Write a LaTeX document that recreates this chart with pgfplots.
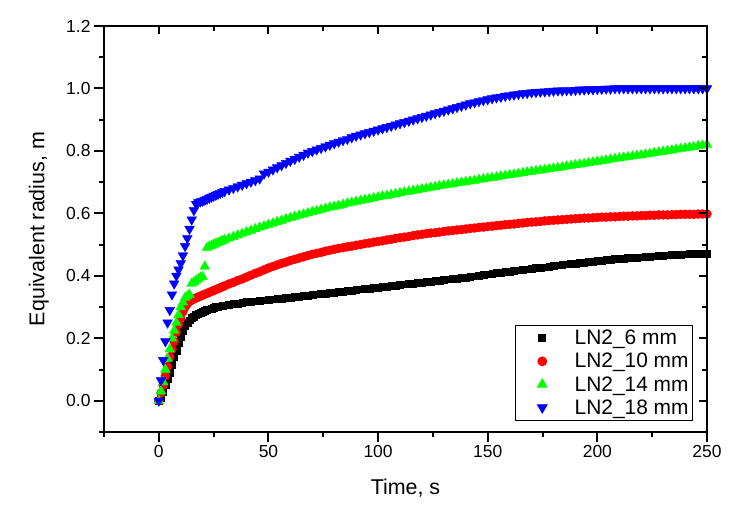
\documentclass[border=0pt]{standalone}
\usepackage{fontspec}
\setmainfont{Liberation Sans}
\usepackage{pgfplots}
\usepackage{pgfplotstable}
\pgfplotsset{compat=1.18}

% Equivalent radius (m) versus time (s) for four nozzle diameters
\pgfplotstableread{
t   r6    r10   r14   r18
0   0.000 0.000 0.000 0.000
1   0.010 0.025 0.030 0.065
2   0.030 0.050 0.060 0.130
3   0.050 0.080 0.100 0.190
4   0.070 0.110 0.135 0.250
5   0.090 0.140 0.165 0.290
6   0.115 0.165 0.200 0.340
7   0.140 0.190 0.225 0.375
8   0.160 0.220 0.250 0.400
9   0.185 0.245 0.275 0.420
10  0.205 0.265 0.300 0.440
11  0.225 0.285 0.315 0.465
12  0.240 0.300 0.330 0.495
13  0.250 0.310 0.335 0.520
14  0.258 0.318 0.340 0.550
15  0.265 0.322 0.375 0.580
16  0.270 0.326 0.380 0.610
17  0.275 0.329 0.385 0.630
18  0.279 0.332 0.390 0.635
19  0.282 0.335 0.395 0.638
20  0.285 0.338 0.397 0.640
21  0.288 0.341 0.430 0.643
22  0.291 0.344 0.490 0.646
23  0.293 0.347 0.494 0.650
24  0.296 0.350 0.497 0.653
25  0.298 0.353 0.500 0.656
26  0.300 0.356 0.503 0.659
27  0.301 0.359 0.506 0.662
28  0.303 0.362 0.509 0.665
29  0.305 0.365 0.512 0.668
30  0.306 0.368 0.515 0.671
32  0.308 0.374 0.520 0.676
34  0.310 0.379 0.525 0.681
36  0.312 0.385 0.530 0.686
38  0.314 0.390 0.535 0.691
40  0.316 0.396 0.540 0.696
42  0.317 0.402 0.545 0.701
44  0.319 0.408 0.550 0.706
46  0.320 0.413 0.555 0.711
48  0.322 0.419 0.559 0.727
50  0.323 0.425 0.564 0.733
52  0.325 0.430 0.568 0.740
54  0.326 0.435 0.573 0.747
56  0.328 0.440 0.577 0.754
58  0.329 0.444 0.582 0.761
60  0.331 0.449 0.586 0.768
62  0.333 0.453 0.590 0.774
64  0.334 0.457 0.594 0.781
66  0.336 0.461 0.597 0.787
68  0.337 0.465 0.601 0.794
70  0.339 0.469 0.605 0.799
72  0.341 0.472 0.608 0.804
74  0.342 0.475 0.612 0.809
76  0.344 0.479 0.615 0.814
78  0.345 0.482 0.619 0.819
80  0.347 0.485 0.622 0.824
82  0.349 0.488 0.625 0.829
84  0.350 0.490 0.628 0.834
86  0.352 0.493 0.632 0.838
88  0.353 0.495 0.635 0.843
90  0.355 0.498 0.638 0.848
92  0.357 0.500 0.641 0.852
94  0.358 0.503 0.644 0.856
96  0.360 0.505 0.646 0.860
98  0.361 0.508 0.649 0.864
100 0.363 0.510 0.652 0.868
102 0.365 0.512 0.655 0.872
104 0.366 0.515 0.657 0.876
106 0.368 0.517 0.660 0.880
108 0.369 0.520 0.662 0.884
110 0.371 0.522 0.665 0.888
112 0.373 0.524 0.668 0.892
114 0.374 0.526 0.670 0.896
116 0.376 0.529 0.673 0.900
118 0.377 0.531 0.675 0.904
120 0.379 0.533 0.678 0.908
122 0.381 0.535 0.680 0.912
124 0.382 0.537 0.683 0.916
126 0.384 0.538 0.685 0.920
128 0.385 0.540 0.688 0.924
130 0.387 0.542 0.690 0.928
132 0.389 0.544 0.692 0.932
134 0.390 0.545 0.694 0.936
136 0.392 0.547 0.697 0.940
138 0.393 0.548 0.699 0.944
140 0.395 0.550 0.701 0.948
142 0.397 0.552 0.703 0.952
144 0.399 0.553 0.705 0.955
146 0.401 0.555 0.708 0.959
148 0.403 0.556 0.710 0.962
150 0.405 0.558 0.712 0.965
152 0.407 0.559 0.714 0.968
154 0.409 0.561 0.716 0.971
156 0.410 0.562 0.719 0.973
158 0.412 0.564 0.721 0.976
160 0.414 0.565 0.723 0.978
162 0.416 0.566 0.725 0.980
164 0.418 0.568 0.727 0.982
166 0.419 0.569 0.730 0.984
168 0.421 0.571 0.732 0.985
170 0.423 0.572 0.734 0.987
172 0.425 0.573 0.736 0.988
174 0.427 0.574 0.738 0.989
176 0.428 0.576 0.740 0.990
178 0.430 0.577 0.742 0.991
180 0.432 0.578 0.744 0.992
182 0.434 0.579 0.746 0.993
184 0.435 0.580 0.748 0.993
186 0.437 0.581 0.751 0.994
188 0.438 0.582 0.753 0.994
190 0.440 0.583 0.755 0.995
192 0.442 0.584 0.757 0.996
194 0.443 0.585 0.759 0.996
196 0.445 0.585 0.762 0.997
198 0.446 0.586 0.764 0.997
200 0.448 0.587 0.766 0.998
202 0.449 0.588 0.768 0.998
204 0.451 0.588 0.770 0.999
206 0.452 0.589 0.773 0.999
208 0.454 0.589 0.775 1.000
210 0.455 0.590 0.777 1.000
212 0.456 0.591 0.779 1.000
214 0.457 0.591 0.781 1.000
216 0.458 0.592 0.783 1.000
218 0.459 0.592 0.785 1.000
220 0.460 0.593 0.787 1.000
222 0.461 0.593 0.789 1.000
224 0.462 0.594 0.791 1.000
226 0.463 0.594 0.794 1.000
228 0.464 0.595 0.796 1.000
230 0.465 0.595 0.798 1.000
232 0.466 0.595 0.800 1.000
234 0.467 0.596 0.802 1.000
236 0.467 0.596 0.805 1.000
238 0.468 0.597 0.807 1.000
240 0.469 0.597 0.809 1.000
242 0.470 0.597 0.811 1.000
244 0.470 0.597 0.813 1.000
246 0.471 0.598 0.816 1.000
248 0.471 0.598 0.818 1.000
250 0.472 0.598 0.820 1.000
}\radiusdata

\definecolor{cblack}{RGB}{0,0,0}
\definecolor{cred}{RGB}{255,0,0}
\definecolor{cgreen}{RGB}{0,255,0}
\definecolor{cblue}{RGB}{0,0,255}

\pgfplotsset{
  frame/.style={
    scale only axis,
    width=603bp, height=406bp,
    xmin=-25, xmax=250, ymin=-0.1, ymax=1.2,
    xtick={0,50,100,150,200,250},
    minor xtick={-25,25,75,125,175,225},
    ytick={0,0.2,0.4,0.6,0.8,1.0,1.2},
    minor ytick={-0.1,0.1,0.3,0.5,0.7,0.9,1.1},
    axis line style={line width=2.4bp},
    major tick style={line width=2bp, black},
    minor tick style={line width=2bp, black},
  }
}

\begin{document}
\begin{tikzpicture}
\begin{axis}[
  frame,
  name=main,
  clip=false,
  xtick pos=bottom, ytick pos=left,
  tick align=outside,
  major tick length=10bp, minor tick length=5bp,
  /pgf/number format/assume math mode=true,
  ticklabel style={font=\fontsize{17.5}{20}\selectfont},
  yticklabel style={/pgf/number format/.cd, fixed, fixed zerofill, precision=1},
  xlabel={Time, s},
  ylabel={Equivalent radius, m},
  label style={font=\fontsize{21.5}{24}\selectfont},
  xlabel style={at={(axis description cs:0.5,-0.155)}, anchor=base},
  ylabel style={at={(axis description cs:-0.108,0.5)}, anchor=center},
  legend style={
    at={(rel axis cs:0.9768,0.0271)}, anchor=south east,
    draw=black, line width=0.8bp,
    font=\fontsize{21}{23}\selectfont,
    inner xsep=2bp, inner ysep=4bp,
    row sep=5bp,
    nodes={inner ysep=1bp},
  },
  legend cell align=left,
  legend image code/.code={%
    \path (0bp,0bp) (54bp,0bp);
    \draw[#1] plot coordinates {(24bp,0bp)};
  },
]
\addplot[only marks, mark=square*, mark size=3.4bp, color=cblack]
  table[x=t, y=r6] {\radiusdata};
\addlegendentry{LN2\_6 mm}
\addplot[only marks, mark=*, mark size=4.5bp, color=cred]
  table[x=t, y=r10] {\radiusdata};
\addlegendentry{LN2\_10 mm}
\addplot[only marks, mark=triangle*, mark size=5.6bp, color=cgreen]
  table[x=t, y=r14] {\radiusdata};
\addlegendentry{LN2\_14 mm}
\addplot[only marks, mark=triangle*, mark size=5.6bp, color=cblue,
  mark options={rotate=180}]
  table[x=t, y=r18] {\radiusdata};
\addlegendentry{LN2\_18 mm}
\coordinate (bl) at (rel axis cs:0,0);
\coordinate (tr) at (rel axis cs:1,1);
\end{axis}
% mirrored ticks on the top and right edges, pointing inward
\begin{axis}[
  frame,
  xtick pos=top, ytick pos=right,
  tick align=inside,
  major tick length=8bp, minor tick length=5bp,
  xticklabels={}, yticklabels={},
]
\end{axis}
\pgfresetboundingbox
\path ([xshift=-104bp,yshift=-73bp]bl) rectangle ([xshift=27bp,yshift=26bp]tr);
\end{tikzpicture}
\end{document}
